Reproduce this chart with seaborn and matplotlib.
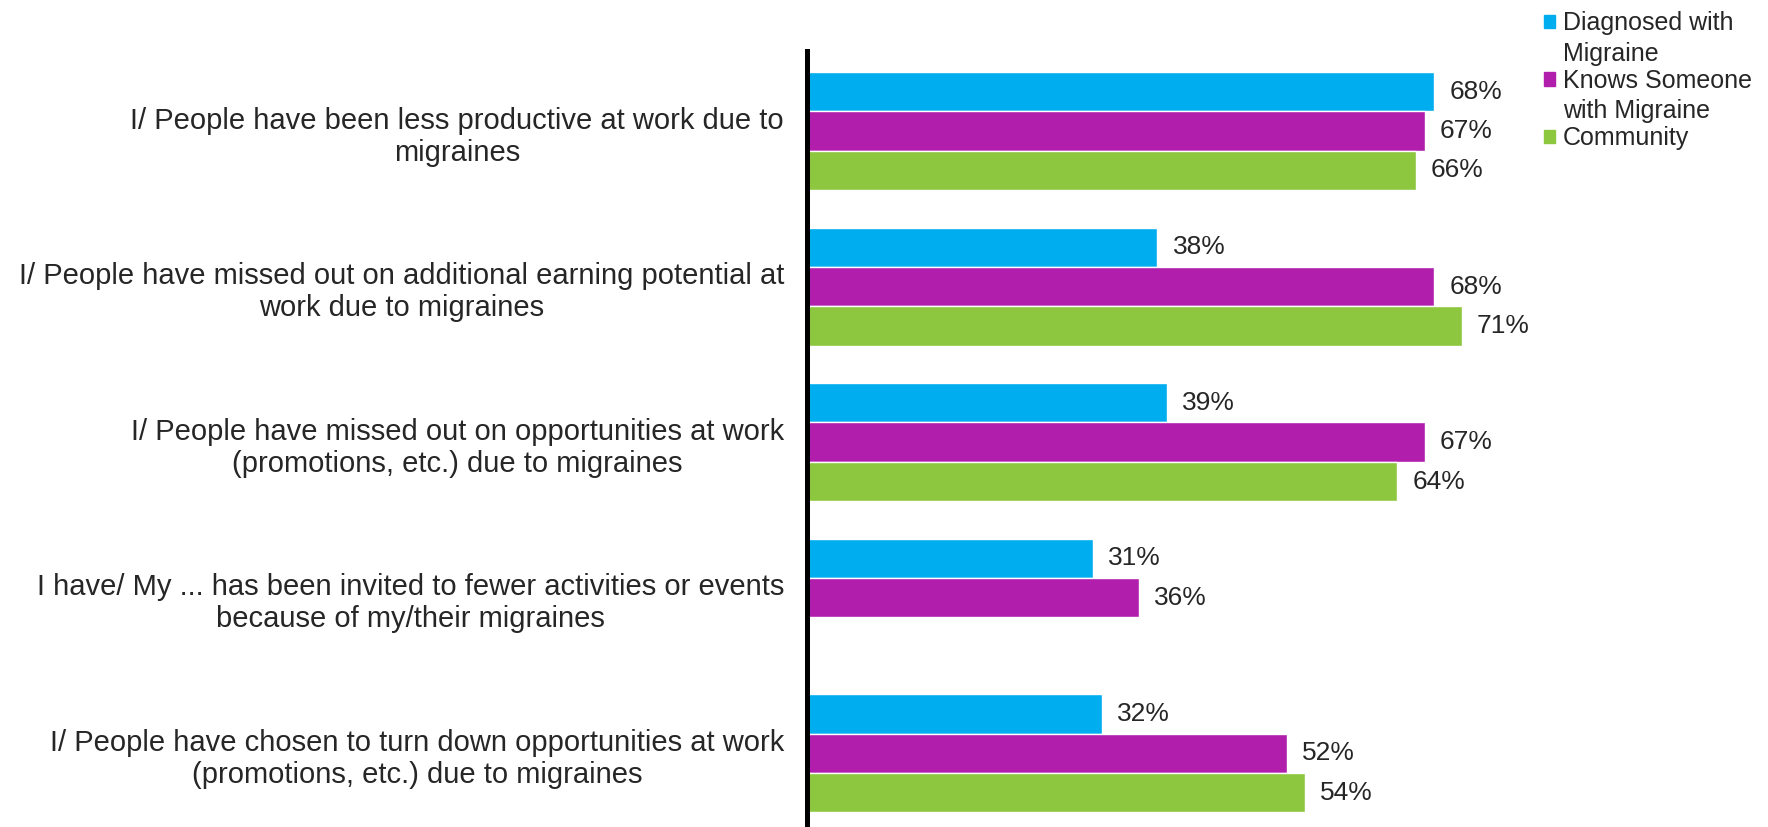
import numpy as np
import pandas as pd
import matplotlib
matplotlib.use('Agg')
import matplotlib.pyplot as plt
import matplotlib.patches as mpatches
from matplotlib.legend_handler import HandlerPatch
import seaborn as sns

statements = [
    'I/ People have been less productive at work due to\nmigraines',
    'I/ People have missed out on additional earning potential at\nwork due to migraines',
    'I/ People have missed out on opportunities at work\n(promotions, etc.) due to migraines',
    'I have/ My ... has been invited to fewer activities or events\nbecause of my/their migraines',
    'I/ People have chosen to turn down opportunities at work\n(promotions, etc.) due to migraines',
]
groups = ['Diagnosed with\nMigraine', 'Knows Someone\nwith Migraine', 'Community']
diagnosed = [68, 38, 39, 31, 32]
knows = [67, 68, 67, 36, 52]
community = [66, 71, 64, np.nan, 54]
colors = ['#00AEEF', '#B11EAC', '#8DC73F']

df = pd.DataFrame({
    'statement': statements * 3,
    'group': np.repeat(groups, len(statements)),
    'value': diagnosed + knows + community,
})

sns.set_style('white')
plt.rcParams['font.family'] = ['Liberation Sans', 'DejaVu Sans']

fig = plt.figure(figsize=(17.68, 8.27), dpi=100)
ax = fig.add_axes([0.4565, 0.0, 0.5215, 0.938])

sns.barplot(data=df, y='statement', x='value', hue='group', order=statements,
            hue_order=groups, palette=colors, orient='h', width=0.76,
            saturation=1, errorbar=None, legend=False, ax=ax)

# value labels next to each drawn bar
for p in ax.patches:
    w = p.get_width()
    if np.isnan(w) or w <= 0:
        continue
    ax.annotate(f'{w:.0f}%', (w, p.get_y() + p.get_height() / 2),
                xytext=(11, 0), textcoords='offset points',
                ha='left', va='center', fontsize=19)

ax.set_xlim(0, 100)
ax.set_ylim(4.474, -0.513)
ax.set_xlabel('')
ax.set_ylabel('')
ax.set_xticks([])
ax.set_yticks(range(len(statements)), labels=[''] * len(statements))
for s in ['top', 'right', 'bottom']:
    ax.spines[s].set_visible(False)
ax.spines['left'].set_linewidth(3.6)
ax.spines['left'].set_color('black')
ax.tick_params(axis='y', length=0)

# category labels, lines centred
for i, s in enumerate(statements):
    ax.annotate(s, (-0.025, i), xycoords=ax.get_yaxis_transform(),
                xytext=(0, -4), textcoords='offset points', ha='right',
                va='center', multialignment='center', linespacing=1.18,
                fontsize=21)


def top_square(shift):
    def f(legend, orig_handle, xdescent, ydescent, width, height, fontsize):
        return mpatches.Rectangle((-xdescent, -ydescent + shift), width, height)
    return HandlerPatch(patch_func=f)


handles = [mpatches.Rectangle((0, 0), 1, 1, color=c) for c in colors]
shifts = [12.5, 12.5, 0]
leg = fig.legend(handles, groups, loc='upper left', bbox_to_anchor=(0.865, 1.005),
                 frameon=False, fontsize=18, handlelength=0.44, handleheight=0.44,
                 handletextpad=0.3, labelspacing=0.12, borderaxespad=0.2,
                 handler_map={h: top_square(s) for h, s in zip(handles, shifts)})
for t in leg.get_texts():
    t.set_linespacing(1.35)

fig.savefig('out.png', dpi=100)
